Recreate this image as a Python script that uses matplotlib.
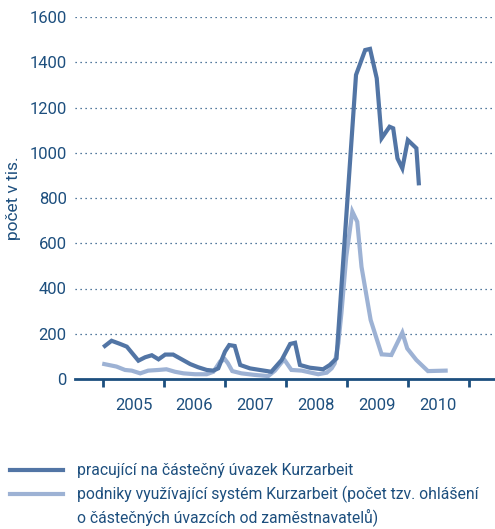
import matplotlib
matplotlib.use('Agg')
from matplotlib import pyplot as plt
from matplotlib.lines import Line2D

plt.rcParams['font.family'] = ['Roboto', 'DejaVu Sans']

# time (fractional years) and values in thousands
dark_t = [2005.03, 2005.14, 2005.28, 2005.39, 2005.58, 2005.69, 2005.80, 2005.91,
          2006.02, 2006.15, 2006.29, 2006.43, 2006.56, 2006.70, 2006.81, 2006.89,
          2007.00, 2007.07, 2007.16, 2007.25, 2007.41, 2007.57, 2007.76, 2007.93,
          2008.07, 2008.15, 2008.23, 2008.39, 2008.61, 2008.72, 2008.83, 2009.15,
          2009.30, 2009.38, 2009.49, 2009.57, 2009.70, 2009.76, 2009.83, 2009.91,
          2010.00, 2010.14, 2010.18]
dark_v = [146, 169, 155, 143, 81, 96, 105, 87,
          108, 108, 87, 66, 52, 40, 37, 47,
          121, 150, 146, 62, 47, 40, 32, 84,
          155, 160, 62, 50, 43, 62, 91, 1344,
          1454, 1459, 1329, 1064, 1115, 1108, 975, 931,
          1056, 1020, 865]

light_t = [2005.02, 2005.22, 2005.36, 2005.47, 2005.61, 2005.74, 2005.91, 2006.04,
           2006.18, 2006.32, 2006.51, 2006.70, 2006.81, 2006.92, 2007.00, 2007.05,
           2007.12, 2007.27, 2007.49, 2007.71, 2007.82, 2007.97, 2008.09, 2008.26,
           2008.53, 2008.67, 2008.75, 2008.80, 2008.86, 2008.91, 2008.99, 2009.09,
           2009.17, 2009.24, 2009.39, 2009.57, 2009.73, 2009.91, 2009.99, 2010.14,
           2010.33, 2010.62]
light_v = [66, 55, 40, 37, 25, 37, 40, 43,
           32, 25, 21, 21, 32, 77, 87, 69,
           35, 25, 18, 13, 37, 87, 40, 37,
           21, 28, 47, 69, 158, 290, 541, 740,
           695, 496, 261, 109, 106, 205, 135, 84,
           35, 37]

years = [2005, 2006, 2007, 2008, 2009, 2010, 2011]
year_labels = ['2005', '2006', '2007', '2008', '2009', '2010']
yticks = [0, 200, 400, 600, 800, 1000, 1200, 1400, 1600]

labels = ['pracující na částečný úvazek Kurzarbeit',
          'podniky využívající systém Kurzarbeit (počet tzv. ohlášení',
          'o částečných úvazcích od zaměstnavatelů)']

dark = '#5275a5'
light = '#9db2d4'
navy = '#1d4f7e'

fig = plt.figure(figsize=(4.95, 5.29), dpi=100)
ax = fig.add_axes([75 / 495, 150 / 529, 420 / 495, 362 / 529])

ax.plot(dark_t, dark_v, color=dark, lw=3, solid_joinstyle='miter', zorder=3)
ax.plot(light_t, light_v, color=light, lw=3, solid_joinstyle='miter', zorder=2)

ax.set_xlim(2004.54, 2011.43)
ax.set_ylim(0, 1600)

for s in ['left', 'right', 'top']:
    ax.spines[s].set_visible(False)
ax.spines['bottom'].set_color(navy)
ax.spines['bottom'].set_linewidth(2)
ax.spines['bottom'].set_zorder(4)

ax.set_yticks(yticks)
ax.tick_params(axis='y', length=0, pad=6, labelsize=12, labelcolor=navy)
for y in yticks[1:]:
    ax.axhline(y, color=navy, lw=0.9, ls=(0, (1, 3)), zorder=1)

ax.set_xticks(years)
ax.set_xticklabels([''] * len(years))
ax.set_xticks([y + 0.5 for y in years[:-1]], minor=True)
ax.set_xticklabels(year_labels, minor=True)
ax.tick_params(axis='x', which='major', length=5.5, width=2, color=navy, direction='out')
ax.tick_params(axis='x', which='minor', length=0, pad=14, labelsize=12, labelcolor=navy)

ax.set_ylabel('počet v tis.', color=navy, fontsize=12.5, labelpad=6)

fig.add_artist(Line2D([10 / 495, 63 / 495], [1 - 470 / 529] * 2, color=dark, lw=3))
fig.add_artist(Line2D([10 / 495, 63 / 495], [1 - 494 / 529] * 2, color=light, lw=3))
for lab, yy in zip(labels, [470, 494, 517]):
    fig.text(77 / 495, 1 - yy / 529, lab, color=navy, fontsize=11.3, va='center', ha='left')

fig.savefig('out.png', dpi=100)
